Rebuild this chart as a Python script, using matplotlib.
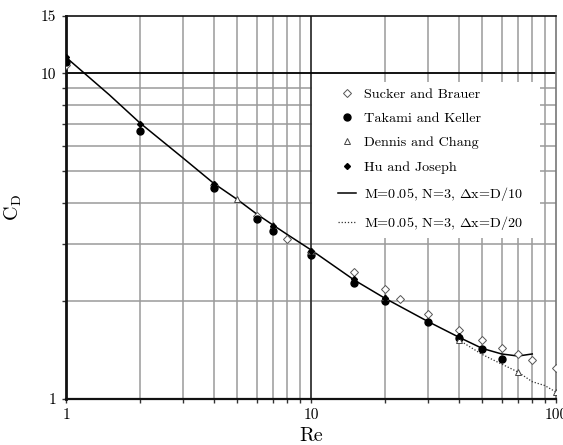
import matplotlib
matplotlib.use("Agg")
import matplotlib.pyplot as plt
from matplotlib.patches import Rectangle
from matplotlib.ticker import FixedLocator, NullFormatter, FixedFormatter

plt.rcParams["font.family"] = "serif"
plt.rcParams["font.serif"] = ["cmr10"]
plt.rcParams["mathtext.fontset"] = "cm"
plt.rcParams["axes.unicode_minus"] = False
plt.rcParams["axes.formatter.use_mathtext"] = True

# Experimental / reference data
re_sb = [1, 4, 6, 8, 10, 15, 20, 23, 30, 40, 50, 60, 70, 80, 100]
cd_sb = [10.6, 4.55, 3.65, 3.1, 2.83, 2.45, 2.18, 2.03, 1.82, 1.63, 1.52, 1.43, 1.37, 1.32, 1.245]

re_tk = [1, 2, 4, 6, 7, 10, 15, 20, 30, 40, 50, 60]
cd_tk = [10.8, 6.65, 4.45, 3.57, 3.28, 2.76, 2.27, 2.0, 1.72, 1.54, 1.42, 1.33]

re_dc = [5, 7, 10, 20, 40, 70, 100]
cd_dc = [4.12, 3.42, 2.85, 2.05, 1.52, 1.21, 1.05]

re_hj = [1, 2, 4, 7, 10, 15, 20, 40]
cd_hj = [11.2, 7.0, 4.57, 3.40, 2.85, 2.33, 2.04, 1.56]

# Simulation results
re_m10 = [1, 1.5, 2, 3, 4, 5, 6, 7, 8, 10, 15, 20, 30, 40, 50, 60, 70, 80]
cd_m10 = [11.2, 8.6, 7.05, 5.5, 4.6, 4.1, 3.7, 3.42, 3.2, 2.87, 2.32, 2.04,
          1.73, 1.55, 1.43, 1.375, 1.355, 1.375]

re_m20 = [40, 50, 60, 70, 80, 90, 100]
cd_m20 = [1.52, 1.37, 1.28, 1.21, 1.13, 1.10, 1.05]

x_ticks = [1, 10, 100]
x_ticklabels = ["1", "10", "100"]
y_ticks = [1, 10, 15]
y_ticklabels = ["1", "10", "15"]

fig = plt.figure(figsize=(5.63, 4.45), dpi=100)
ax = fig.add_axes([66 / 563, 46 / 445, 490 / 563, 383 / 445])
ax.set_xscale("log")
ax.set_yscale("log")
ax.set_xlim(1, 100)
ax.set_ylim(1, 15)

# grid
xminor = [k * d for d in (1, 10) for k in range(2, 10)]
yminor = list(range(2, 10))
for xv in xminor:
    ax.axvline(xv, color="#9a9a9a", lw=1.1, zorder=0)
ax.axvline(10, color="#333333", lw=1.3, zorder=0.5)
for yv in yminor:
    ax.axhline(yv, color="#9a9a9a", lw=1.1, zorder=0)
ax.axhline(10, color="black", lw=1.3, zorder=0.5)

ax.xaxis.set_major_locator(FixedLocator(x_ticks))
ax.xaxis.set_major_formatter(FixedFormatter(x_ticklabels))
ax.xaxis.set_minor_locator(FixedLocator(xminor))
ax.xaxis.set_minor_formatter(NullFormatter())
ax.yaxis.set_major_locator(FixedLocator(y_ticks))
ax.yaxis.set_major_formatter(FixedFormatter(y_ticklabels))
ax.yaxis.set_minor_locator(FixedLocator(yminor))
ax.yaxis.set_minor_formatter(NullFormatter())
ax.tick_params(which="both", direction="out", length=3, width=1, colors="#333333",
               labelcolor="black", labelsize=11, pad=4)

for side in ("left", "bottom", "top"):
    ax.spines[side].set_color("#111111")
ax.spines["left"].set_linewidth(2)
ax.spines["bottom"].set_linewidth(1.6)
ax.spines["top"].set_linewidth(1.2)
ax.spines["right"].set_color("#777777")
ax.spines["right"].set_linewidth(1.2)

# white panel behind the legend
ax.add_patch(Rectangle((246 / 490, (399 - 238) / 383), 228 / 490, 156 / 383,
                       transform=ax.transAxes, facecolor="white",
                       edgecolor="none", zorder=1))

ax.plot(re_m10, cd_m10, color="black", lw=1.1, zorder=3,
        label=r"M=0.05, N=3, $\Delta$x=D/10")
ax.plot(re_m20, cd_m20, color="#333333", lw=0.9, ls=(0, (1, 1.5)), zorder=3,
        label=r"M=0.05, N=3, $\Delta$x=D/20")
ax.plot(re_sb, cd_sb, ls="none", marker="D", ms=4.5, mfc="white", mec="#555555",
        mew=0.7, zorder=4, label="Sucker and Brauer")
ax.plot(re_tk, cd_tk, ls="none", marker="o", ms=5, mfc="black", mec="black",
        zorder=5, label="Takami and Keller")
ax.plot(re_dc, cd_dc, ls="none", marker="^", ms=4, mfc="white", mec="#444444",
        mew=0.7, zorder=6, label="Dennis and Chang")
ax.plot(re_hj, cd_hj, ls="none", marker="D", ms=3, mfc="black", mec="black",
        zorder=6, label="Hu and Joseph")

h, l = ax.get_legend_handles_labels()
order = [2, 3, 4, 5, 0, 1]
leg = ax.legend([h[i] for i in order], [l[i] for i in order],
                loc="upper left", bbox_to_anchor=(272 / 490, (399 - 88) / 383),
                frameon=False, fontsize=10.2, handlelength=1.25,
                handletextpad=0.6, labelspacing=0.8, borderpad=0,
                borderaxespad=0)
leg.set_zorder(7)

ax.set_xlabel("Re", fontsize=14.5, labelpad=3)
ax.set_ylabel(r"C$_\mathrm{D}$", fontsize=14.5, labelpad=12)

fig.savefig("out.png", dpi=100)
